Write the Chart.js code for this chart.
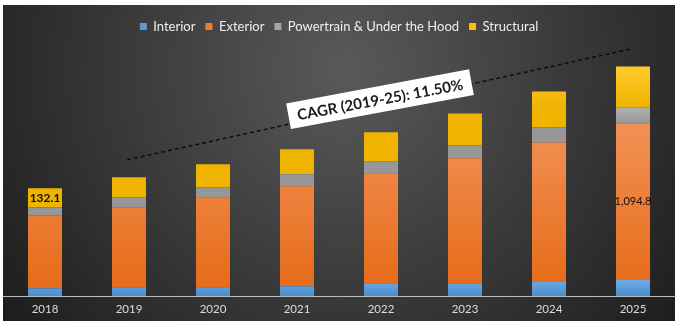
<!DOCTYPE html>
<html>
<head>
<meta charset="utf-8">
<script src="https://cdn.jsdelivr.net/npm/chart.js@4"></script>
<style>
  html, body { margin: 0; padding: 0; background: #fff; }
  #chart { display: block; }
</style>
</head>
<body>
<canvas id="chart" width="678" height="327"></canvas>
<script>
const years = ['2018', '2019', '2020', '2021', '2022', '2023', '2024', '2025'];
const interior = [9.8, 11.0, 11.0, 12.2, 15.9, 15.9, 18.3, 20.8];
const exterior = [89.3, 97.9, 110.1, 122.3, 134.5, 152.9, 170.0, 190.8];
const powertrain = [9.8, 12.2, 12.2, 14.7, 14.7, 15.9, 18.3, 19.6];
const structural = [23.2, 24.5, 28.1, 30.6, 35.5, 39.1, 44.0, 50.1];

const seriesNames = ['Interior', 'Exterior', 'Powertrain & Under the Hood', 'Structural'];
const seriesColors = ['#5b9bd5', '#ed7d31', '#a5a5a5', '#ffc000'];
// top / bottom shades used to fill each segment
const shadeTop = ['#6eaee6', '#f39155', '#b0b0b0', '#ffca2e'];
const shadeBottom = ['#4b8ccd', '#e66d1c', '#979797', '#efb400'];

// text printed on single segments: [series index, year index, text]
const barLabels = [[3, 0, '132.1'], [1, 7, '1,094.8']];

// CAGR trend line, ends given as [year index, value]
const cagrText = 'CAGR (2019-25): 11.50%';
const cagrFrom = [1, 167];
const cagrTo = [7, 303];

const FONT = 'Lato, "DejaVu Sans", sans-serif';

const backdrop = {
  id: 'backdrop',
  beforeDraw(chart) {
    const c = chart.ctx;
    c.save();
    c.fillStyle = '#fff';
    c.fillRect(0, 0, chart.width, chart.height);
    const g = c.createRadialGradient(345, 70, 10, 345, 70, 420);
    g.addColorStop(0, '#585858');
    g.addColorStop(1, '#1d1d1d');
    c.fillStyle = g;
    c.fillRect(3, 5, 672, 316);
    c.restore();
  },
  beforeDatasetsDraw(chart) {
    // give every segment its own vertical shading
    const c = chart.ctx;
    chart.data.datasets.forEach((ds, i) => {
      chart.getDatasetMeta(i).data.forEach(el => {
        const g = c.createLinearGradient(0, el.y, 0, el.base);
        g.addColorStop(0, shadeTop[i]);
        g.addColorStop(1, shadeBottom[i]);
        el.options.backgroundColor = g;
      });
    });
  }
};

const extras = {
  id: 'extras',
  afterDatasetsDraw(chart) {
    const c = chart.ctx;
    const x = chart.scales.x, y = chart.scales.y;

    // segment labels
    barLabels.forEach(([ds, i, txt]) => {
      const el = chart.getDatasetMeta(ds).data[i];
      const mid = (el.y + el.base) / 2;
      c.save();
      c.font = ds === 3 ? 'bold 12px ' + FONT : '11px ' + FONT;
      c.fillStyle = '#111';
      c.textAlign = 'center';
      c.textBaseline = 'middle';
      c.fillText(txt, el.x, mid);
      c.restore();
    });

    // dashed trend line
    const x1 = x.getPixelForValue(cagrFrom[0]) - 2, y1 = y.getPixelForValue(cagrFrom[1]);
    const x2 = x.getPixelForValue(cagrTo[0]) - 1, y2 = y.getPixelForValue(cagrTo[1]);
    c.save();
    c.strokeStyle = '#0d0d0d';
    c.lineWidth = 1.5;
    c.setLineDash([4, 3]);
    c.beginPath();
    c.moveTo(x1, y1);
    c.lineTo(x2, y2);
    c.stroke();
    c.restore();

    // label box
    const ang = Math.atan2(y2 - y1, x2 - x1);
    const bx = x.getPixelForValue(4) - 1;
    const by = y1 + (bx - x1) * (y2 - y1) / (x2 - x1) - 5;
    c.save();
    c.translate(bx, by);
    c.rotate(ang * 0.85);
    c.fillStyle = '#fff';
    c.fillRect(-93, -13, 186, 26);
    c.font = 'bold 15px ' + FONT;
    c.fillStyle = '#1a1a1a';
    c.textAlign = 'center';
    c.textBaseline = 'middle';
    c.fillText(cagrText, 0, 1);
    c.restore();
  }
};

const datasets = [interior, exterior, powertrain, structural].map((d, i) => ({
  label: seriesNames[i],
  data: d,
  backgroundColor: seriesColors[i],
  borderWidth: 0,
  barPercentage: 0.405,
  categoryPercentage: 1
}));

new Chart(document.getElementById('chart'), {
  type: 'bar',
  data: { labels: years, datasets },
  plugins: [backdrop, extras],
  options: {
    responsive: false,
    animation: false,
    devicePixelRatio: 1,
    layout: { padding: { top: 10, left: 3, right: 3, bottom: 5 } },
    plugins: {
      legend: {
        position: 'top',
        labels: {
          color: '#eeeeee',
          boxWidth: 7,
          boxHeight: 7,
          padding: 10,
          font: { family: FONT, size: 13 }
        }
      },
      tooltip: { enabled: true }
    },
    scales: {
      x: {
        stacked: true,
        grid: { display: false, drawTicks: false },
        border: { color: '#bdbdbd', width: 1 },
        ticks: { color: '#dddddd', padding: 6, font: { family: FONT, size: 11.5 } }
      },
      y: {
        stacked: true,
        display: false,
        min: 0,
        max: 310
      }
    }
  }
});
</script>
</body>
</html>
